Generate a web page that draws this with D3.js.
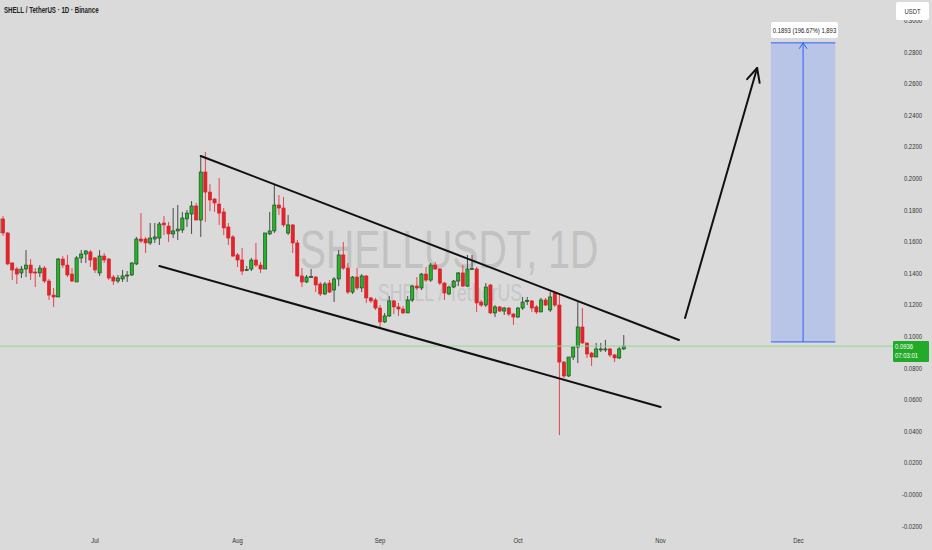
<!DOCTYPE html>
<html><head><meta charset="utf-8">
<script src="https://cdn.jsdelivr.net/npm/d3@7"></script>
<style>html,body{margin:0;padding:0;background:#dadada;overflow:hidden}</style>
</head><body>
<svg id="c" width="932" height="550"></svg>
<script>
// ---- data ----
const firstDate = "2025-06-10"; // one candle per day from here
const opens  = [.1652,.1741,.1652,.1462,.1424,.1399,.1424,.1449,.1405,.1399,.1430,.1348,.1259,.1247,.1487,.1449,.1392,.1342,.1494,.1519,.1532,.1494,.1399,.1506,.1487,.1373,.1348,.1361,.1380,.1386,.1456,.1614,.1614,.1589,.1614,.1620,.1715,.1696,.1646,.1665,.1671,.1741,.1772,.1823,.1734,.2038,.1911,.1867,.1835,.1785,.1690,.1627,.1513,.1481,.1418,.1424,.1481,.1449,.1424,.1646,.1665,.1829,.1810,.1652,.1703,.1589,.1380,.1342,.1373,.1373,.1329,.1266,.1335,.1291,.1361,.1513,.1430,.1278,.1373,.1304,.1380,.1241,.1228,.1177,.1089,.1127,.1222,.1184,.1171,.1146,.1228,.1316,.1304,.1392,.1354,.1449,.1424,.1335,.1266,.1310,.1348,.1399,.1316,.1424,.1424,.1215,.1196,.1323,.1146,.1184,.1158,.1177,.1139,.1120,.1177,.1222,.1222,.1184,.1152,.1228,.1165,.1272,.1196,.0835,.0747,.0867,.0930,.1057,.0956,.0892,.0867,.0915,.0915,.0918,.0880,.0861,.0918];
const highs  = [.1766,.1759,.1658,.1468,.1437,.1443,.1544,.1487,.1430,.1449,.1443,.1361,.1304,.1494,.1506,.1513,.1430,.1506,.1544,.1544,.1544,.1500,.1544,.1525,.1494,.1386,.1386,.1418,.1411,.1468,.1627,.1778,.1627,.1715,.1715,.1722,.1759,.1722,.1810,.1829,.1785,.1797,.1854,.1842,.2139,.2165,.1962,.1873,.2000,.1810,.1715,.1639,.1525,.1557,.1443,.1494,.1589,.1468,.1652,.1785,.1956,.1892,.1880,.1766,.1709,.1608,.1430,.1386,.1424,.1380,.1342,.1342,.1354,.1373,.1544,.1595,.1462,.1380,.1430,.1392,.1386,.1247,.1241,.1196,.1146,.1253,.1228,.1209,.1190,.1253,.1323,.1373,.1399,.1437,.1462,.1468,.1430,.1342,.1316,.1354,.1405,.1449,.1513,.1513,.1437,.1228,.1335,.1329,.1196,.1190,.1184,.1184,.1146,.1184,.1247,.1247,.1228,.1196,.1241,.1241,.1278,.1278,.1272,.0842,.0867,.0937,.1215,.1177,.0956,.0899,.0956,.0956,.0975,.0924,.0886,.0930,.1006];
const lows   = [.1633,.1633,.1449,.1354,.1329,.1367,.1373,.1354,.1310,.1373,.1335,.1228,.1184,.1247,.1430,.1373,.1342,.1342,.1462,.1462,.1437,.1399,.1380,.1462,.1354,.1323,.1335,.1342,.1342,.1380,.1449,.1589,.1525,.1576,.1589,.1576,.1639,.1595,.1620,.1608,.1652,.1690,.1646,.1734,.1627,.1722,.1791,.1785,.1703,.1639,.1576,.1500,.1437,.1386,.1411,.1411,.1437,.1399,.1424,.1639,.1652,.1766,.1690,.1639,.1525,.1373,.1310,.1335,.1367,.1278,.1253,.1259,.1272,.1215,.1316,.1418,.1266,.1266,.1291,.1278,.1209,.1209,.1165,.1057,.1082,.1120,.1139,.1127,.1139,.1146,.1215,.1291,.1291,.1342,.1342,.1418,.1323,.1228,.1259,.1304,.1316,.1310,.1310,.1418,.1152,.1184,.1184,.1139,.1120,.1152,.1133,.1127,.1070,.1114,.1165,.1196,.1152,.1139,.1152,.1190,.1152,.1184,.0373,.0734,.0741,.0848,.0829,.0949,.0861,.0810,.0867,.0899,.0899,.0867,.0835,.0854,.0911];
const closes = [.1741,.1652,.1456,.1418,.1392,.1424,.1449,.1399,.1399,.1430,.1348,.1259,.1247,.1487,.1449,.1386,.1348,.1494,.1519,.1538,.1481,.1418,.1506,.1481,.1367,.1348,.1367,.1380,.1386,.1462,.1614,.1601,.1589,.1620,.1627,.1709,.1703,.1646,.1665,.1677,.1747,.1778,.1823,.1734,.2038,.1911,.1861,.1842,.1778,.1684,.1620,.1506,.1481,.1411,.1421,.1481,.1449,.1424,.1652,.1665,.1829,.1810,.1703,.1703,.1589,.1380,.1342,.1373,.1377,.1323,.1266,.1329,.1278,.1361,.1513,.1430,.1278,.1373,.1304,.1380,.1241,.1222,.1177,.1089,.1127,.1222,.1184,.1171,.1146,.1228,.1316,.1304,.1392,.1354,.1449,.1424,.1335,.1272,.1310,.1348,.1399,.1316,.1424,.1427,.1209,.1196,.1310,.1146,.1184,.1158,.1177,.1139,.1120,.1177,.1215,.1225,.1177,.1152,.1228,.1196,.1247,.1196,.0835,.0747,.0867,.0930,.1057,.0956,.0886,.0867,.0918,.0918,.0918,.0880,.0861,.0918,.0936];
const yTickValues = [-0.02,0,0.02,0.04,0.06,0.08,0.10,0.12,0.14,0.16,0.18,0.20,0.22,0.24,0.26,0.28,0.30];
const yTickLabels = ["-0.0200","-0.0000","0.0200","0.0400","0.0600","0.0800","0.1000","0.1200","0.1400","0.1600","0.1800","0.2000","0.2200","0.2400","0.2600","0.2800","0.3000"];
const monthTicks = ["2025-07-01","2025-08-01","2025-09-01","2025-10-01","2025-11-01","2025-12-01"];
const monthLabels = ["Jul","Aug","Sep","Oct","Nov","Dec"];
const upperLine = [["2025-07-24",0.2139],["2025-11-05",0.0975]];
const lowerLine = [["2025-07-15",0.1443],["2025-11-01",0.0551]];
const arrowPts  = [["2025-11-06",0.1114],["2025-11-22",0.2696]];
const target = {from:"2025-11-25", to:"2025-12-09", entry:0.09625, gain:0.1893};
const targetLabel = "0.1893 (196.67%) 1,893";
const title = "SHELL / TetherUS · 1D · Binance";
const lastPrice = "0.0936", countdown = "07:03:01";

// ---- scales ----
const P = d3.timeParse("%Y-%m-%d");
const x = d3.scaleTime().domain([P("2025-07-01"), P("2025-12-01")]).range([95, 798.5]);
const y = d3.scaleLinear().domain([-0.02, 0.30]).range([525.6, 20]);
const svg = d3.select("#c");
const FONT = "Liberation Sans, Arial, sans-serif";
const SX = 0.74;
function txt(g, px, py, s, size, anchor, fill, weight) {
  const t = g.append("g").attr("transform", `translate(${px},${py}) scale(${SX},1)`);
  t.append("text").attr("text-anchor", anchor||"start").attr("font-family", FONT)
    .attr("font-size", size).attr("font-weight", weight||400).attr("fill", fill||"#333").text(s);
  return t;
}
svg.append("rect").attr("width",932).attr("height",550).attr("fill","#dadada");

// watermark
txt(svg, 449, 268, "SHELLUSDT, 1D", 53, "middle", "#c2c2c2");
txt(svg, 450, 301, "SHELL / TetherUS", 24, "middle", "#c6c6c6");

// candles
const d0 = P(firstDate);
const candles = opens.map((o,i)=>({date:d3.timeDay.offset(d0,i),o,h:highs[i],l:lows[i],c:closes[i]}));
const bw = 3.2;
const cg = svg.append("g");
candles.forEach(d=>{
  const up = d.c >= d.o;
  const cx = x(d.date);
  cg.append("line").attr("x1",cx).attr("x2",cx).attr("y1",y(d.h)).attr("y2",y(d.l))
    .attr("stroke", up ? "#3a3a3a" : "#e8323a").attr("stroke-width",0.9);
  const top = y(Math.max(d.o,d.c)), bot = y(Math.min(d.o,d.c));
  cg.append("rect").attr("x",cx-bw/2).attr("y",top).attr("width",bw).attr("height",Math.max(1,bot-top))
    .attr("fill", up ? "#22b528" : "#e3242b").attr("stroke", up ? "#1b3a1b" : "#d21f26").attr("stroke-width",0.6);
});

// last price line
svg.append("line").attr("x1",0).attr("x2",893).attr("y1",y(closes[closes.length-1])).attr("y2",y(closes[closes.length-1]))
  .attr("stroke","#8fd68f").attr("stroke-width",1);

// trend lines
const ln = (a)=>svg.append("line").attr("x1",x(P(a[0][0]))).attr("y1",y(a[0][1])).attr("x2",x(P(a[1][0]))).attr("y2",y(a[1][1]))
  .attr("stroke","#111").attr("stroke-width",2).attr("stroke-linecap","round");
ln(upperLine); ln(lowerLine);
// arrow
const ax1=x(P(arrowPts[0][0]))+1.5, ay1=y(arrowPts[0][1]), ax2=x(P(arrowPts[1][0])), ay2=y(arrowPts[1][1]);
svg.append("line").attr("x1",ax1).attr("y1",ay1).attr("x2",ax2).attr("y2",ay2).attr("stroke","#111").attr("stroke-width",2).attr("stroke-linecap","round");
{
  const ang = Math.atan2(ay2-ay1, ax2-ax1), L=15, w=0.45;
  const p1=[ax2-L*Math.cos(ang-w), ay2-L*Math.sin(ang-w)], p2=[ax2-L*Math.cos(ang+w), ay2-L*Math.sin(ang+w)];
  svg.append("path").attr("d",`M${p1}L${ax2},${ay2}L${p2}`).attr("fill","none").attr("stroke","#111").attr("stroke-width",2).attr("stroke-linecap","round").attr("stroke-linejoin","round");
}

// target box
const bx1=x(P(target.from)), bx2=x(P(target.to)), byTop=y(target.entry+target.gain), byBot=y(target.entry);
svg.append("rect").attr("x",bx1).attr("y",byTop).attr("width",bx2-bx1).attr("height",byBot-byTop).attr("fill","#b9c5e6");
svg.append("line").attr("x1",bx1).attr("x2",bx2).attr("y1",byTop).attr("y2",byTop).attr("stroke","#2962ff").attr("stroke-width",1);
svg.append("line").attr("x1",bx1).attr("x2",bx2).attr("y1",byBot).attr("y2",byBot).attr("stroke","#2962ff").attr("stroke-width",1);
const bmx=(bx1+bx2)/2;
svg.append("line").attr("x1",bmx).attr("x2",bmx).attr("y1",byBot).attr("y2",byTop).attr("stroke","#2962ff").attr("stroke-width",1);
svg.append("path").attr("d",`M${bmx-4},${byTop+6}L${bmx},${byTop}L${bmx+4},${byTop+6}`).attr("fill","none").attr("stroke","#2962ff").attr("stroke-width",1);
svg.append("rect").attr("x",771).attr("y",22).attr("width",67).attr("height",16).attr("rx",2).attr("fill","#ffffff");
txt(svg, 804.5, 33, targetLabel, 8, "middle", "#222");

// y axis labels
yTickValues.forEach((v,i)=>{
  txt(svg, 922, y(v)+3, yTickLabels[i], 8, "end", "#333");
});
// x axis labels
monthTicks.forEach((m,i)=>{
  txt(svg, x(P(m)), 543, monthLabels[i], 8, "middle", "#333");
});

// USDT box
svg.append("rect").attr("x",896).attr("y",2).attr("width",33).attr("height",18).attr("rx",2).attr("fill","#ffffff");
txt(svg, 912.5, 14, "USDT", 8, "middle", "#333");

// last price tag
const ly = y(closes[closes.length-1]);
svg.append("rect").attr("x",893).attr("y",ly-5).attr("width",36).attr("height",21).attr("rx",1).attr("fill","#22ab28");
txt(svg, 895, ly+3, lastPrice, 8, "start", "#fff");
txt(svg, 895, ly+12, countdown, 8, "start", "#fff");

// title
txt(svg, 4, 13, title, 8.3, "start", "#222", 600);
</script>
</body></html>
